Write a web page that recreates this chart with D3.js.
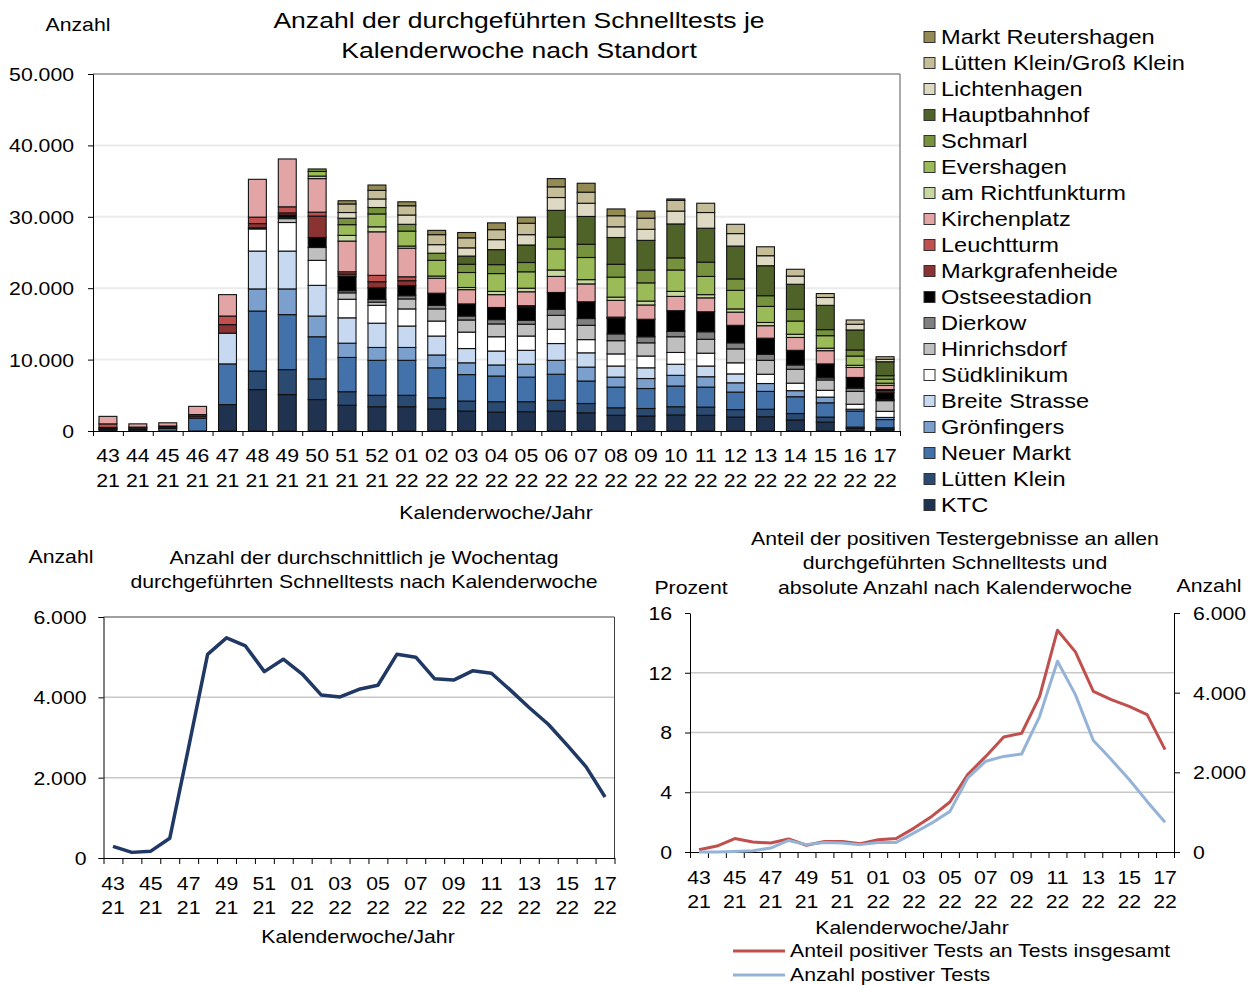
<!DOCTYPE html>
<html>
<head>
<meta charset="utf-8">
<script src="https://cdn.jsdelivr.net/npm/d3@7"></script>
<style>
body { margin: 0; background: #fff; }
svg { display: block; }
text { font-family: "Liberation Sans", Arial, sans-serif; fill: #000; }
</style>
</head>
<body>
<svg id="chart" width="1256" height="985"></svg>
<script>
// Kalenderwochen (zwei Zeilen: Woche / Jahr)
const weeks = ["43","44","45","46","47","48","49","50","51","52","01","02","03","04","05","06","07","08","09","10","11","12","13","14","15","16","17"];
const years = ["21","21","21","21","21","21","21","21","21","21","22","22","22","22","22","22","22","22","22","22","22","22","22","22","22","22","22"];

// Tests je Standort und Woche, von unten nach oben gestapelt
const ktc = [200,200,0,0,3700,5800,5100,4400,3600,3400,3400,3100,2800,2650,2700,2800,2550,2200,2100,2250,2200,1950,2000,1550,1250,350,250];
const luettenKlein = [0,0,0,0,0,2600,3500,2900,1900,1600,1600,1550,1400,1450,1400,1500,1300,1050,1050,1150,1150,1050,1050,900,700,200,200];
const neuerMarkt = [0,0,350,1800,5700,8400,7700,5900,4800,4900,4900,4200,3700,3600,3450,3650,3150,2900,2800,2900,2800,2450,2500,2350,2000,2250,1150];
const groenfingers = [0,0,0,0,0,3100,3600,2900,2000,1800,1800,1800,1650,1550,1800,1950,1950,1400,1400,1500,1450,1300,1100,850,800,250,300];
const breiteStrasse = [0,0,0,0,4300,5300,5300,4300,3550,3400,3000,2650,2000,1950,1950,2350,2000,1550,1500,1550,1500,1250,0,0,0,0,0];
const suedklinikum = [0,0,0,0,0,3100,4000,3500,2600,2500,2400,2100,2300,2000,2000,2000,1850,1700,1650,1650,1800,1550,1300,1050,950,700,850];
const hinrichsdorf = [0,0,0,0,0,0,550,1800,900,450,1400,1700,1700,1800,1650,1950,2000,1850,1850,2200,1950,1950,1950,1950,1450,1800,1500];
const dierkow = [0,0,0,0,0,0,200,0,300,400,450,500,550,600,550,850,950,950,850,750,1050,850,850,600,300,450,150];
const ostseestadion = [150,0,0,0,0,150,300,1400,2000,1600,1400,1700,1700,1700,1800,2350,2350,2150,2450,2900,2800,2450,2250,2050,1950,1500,950];
const markgrafenheide = [150,200,200,300,1200,600,300,3000,350,850,700,0,0,0,100,0,0,100,0,0,0,0,0,0,0,0,300];
const leuchtturm = [500,150,150,200,1200,900,850,550,300,900,550,0,0,0,150,0,0,100,0,0,0,0,0,0,0,0,150];
const kirchenplatz = [1050,450,450,1150,3000,5300,6700,4700,4300,6100,4000,2100,2000,1800,1950,2250,2500,2350,2000,2000,1950,1850,1750,1800,1850,1400,600];
const richtfunkturm = [0,0,0,0,0,0,0,350,800,700,300,300,300,450,500,900,600,450,550,700,450,450,450,450,350,300,300];
const evershagen = [0,0,0,0,0,0,0,650,1500,1800,2100,2200,2100,2500,2300,2950,3100,2800,2550,3000,2550,2600,2250,1850,1750,1300,550];
const schmarl = [0,0,0,0,0,0,0,350,900,900,950,1000,1150,1250,1300,1650,1850,1800,1800,1700,2000,1600,1500,1650,850,850,500];
const hauptbahnhof = [0,0,0,0,0,0,0,0,0,0,0,0,1150,2100,2450,3750,3900,3750,4150,4750,4750,4600,4200,3500,3400,2800,1950];
const lichtenhagen = [0,0,0,0,0,0,0,0,800,1200,1300,1200,1150,1400,1450,1800,1850,1500,1550,1800,2200,1750,1400,1150,1100,800,350];
const luettenGrossKlein = [0,0,0,0,0,0,0,0,1200,1200,1300,1400,1400,1400,1600,1500,1550,1550,1550,1500,1300,1300,1250,950,550,600,350];
const marktReutershagen = [0,0,0,0,0,0,0,0,450,750,550,600,750,950,850,1150,1250,950,1000,200,0,0,0,0,0,0,0];

const stationNames = ["KTC","Lütten Klein","Neuer Markt","Grönfingers","Breite Strasse","Südklinikum","Hinrichsdorf","Dierkow","Ostseestadion","Markgrafenheide","Leuchtturm","Kirchenplatz","am Richtfunkturm","Evershagen","Schmarl","Hauptbahnhof","Lichtenhagen","Lütten Klein/Groß Klein","Markt Reutershagen"];
const stationValues = [ktc, luettenKlein, neuerMarkt, groenfingers, breiteStrasse, suedklinikum, hinrichsdorf, dierkow, ostseestadion, markgrafenheide, leuchtturm, kirchenplatz, richtfunkturm, evershagen, schmarl, hauptbahnhof, lichtenhagen, luettenGrossKlein, marktReutershagen];
const stationColors = ["#1f3350","#2b4a72","#4372ab","#7ba0cd","#c6d9f1","#ffffff","#bfbfbf","#808080","#000000","#8b3232","#c0504d","#e2a4a4","#c6d89f","#9bbb59","#76923c","#4f6228","#ddd9c3","#c4bd97","#948a54"];

// durchschnittlich je Wochentag
const avgPerDay = [290,140,170,490,2760,5070,5480,5280,4640,4950,4580,4060,4010,4200,4300,5070,5000,4460,4430,4660,4600,4180,3740,3330,2810,2270,1520];
// Anteil positiver Tests (Prozent) und Anzahl positiver Tests
const positiveShare = [0.15,0.4,0.9,0.67,0.6,0.87,0.45,0.7,0.7,0.55,0.82,0.9,1.6,2.4,3.35,5.2,6.4,7.7,7.95,10.4,14.85,13.4,10.75,10.2,9.75,9.2,6.85];
const positiveCount = [0,0,15,30,100,290,185,240,225,185,240,240,480,730,1020,1860,2280,2400,2460,3400,4790,3950,2800,2320,1820,1270,745];

const SX = 1.18; // Schrift im Original etwas breiter
const de = d3.formatLocale({decimal: ",", thousands: ".", grouping: [3], currency: ["", " €"]});
const fmt = de.format(",d");

const svg = d3.select("#chart");
svg.append("rect").attr("width", 1256).attr("height", 985).attr("fill", "#fff");

function label(x, y, s, size, anchor) {
	return svg.append("text")
		.attr("transform", `translate(${x},${y}) scale(${SX},1)`)
		.attr("text-anchor", anchor || "middle")
		.attr("dominant-baseline", "central")
		.style("font-size", size + "px")
		.text(s);
}

// Y-Achsen-Beschriftung nachbearbeiten
function fixSide(g, off, anchor) {
	g.selectAll(".tick text")
		.attr("x", off / SX)
		.attr("dy", null)
		.attr("text-anchor", anchor)
		.attr("dominant-baseline", "central")
		.attr("transform", `scale(${SX},1)`)
		.style("font-size", "18px");
}

// zweizeilige Wochenbeschriftung
function twoLines(g, y1, y2) {
	g.selectAll(".tick text").each(function(i) {
		let t = d3.select(this);
		t.text(null).attr("y", null).attr("dy", null)
			.attr("dominant-baseline", "central")
			.attr("transform", `scale(${SX},1)`)
			.style("font-size", "18px");
		t.append("tspan").attr("x", 0).attr("y", y1).text(weeks[i]);
		t.append("tspan").attr("x", 0).attr("y", y2).text(years[i]);
	});
}

// ---------- Oben: gestapelte Säulen ----------
const x1 = d3.scaleBand().domain(d3.range(weeks.length)).range([93, 900]).paddingInner(0.4).paddingOuter(0.2);
const y1 = d3.scaleLinear().domain([0, 50000]).range([431, 74]);

svg.append("g").selectAll("line")
	.data([10000, 20000, 30000, 40000])
	.enter().append("line")
	.attr("x1", 93).attr("x2", 900)
	.attr("y1", d => y1(d)).attr("y2", d => y1(d))
	.attr("stroke", "#ebebeb").attr("stroke-width", 2);

svg.append("path").attr("d", `M93,${y1(50000)}H900V${y1(0)}`).attr("fill", "none").attr("stroke", "#595959");

let rows = weeks.map(function(w, i) {
	let r = {};
	stationNames.forEach(function(n, k) { r[n] = stationValues[k][i]; });
	return r;
});
let stacked = d3.stack().keys(stationNames)(rows);

svg.append("g").selectAll("g")
	.data(stacked)
	.enter().append("g")
	.attr("fill", (d, k) => stationColors[k])
	.selectAll("rect")
	.data(d => d.map((v, i) => ({i: i, y0: v[0], y1: v[1]})).filter(v => v.y1 - v.y0 > 0))
	.enter().append("rect")
	.attr("x", d => x1(d.i))
	.attr("width", x1.bandwidth())
	.attr("y", d => y1(d.y1))
	.attr("height", d => y1(d.y0) - y1(d.y1))
	.attr("stroke", "#111").attr("stroke-width", 1.1);

let yAx1 = svg.append("g").attr("transform", "translate(93,0)")
	.call(d3.axisLeft(y1).tickValues([0, 10000, 20000, 30000, 40000, 50000]).tickFormat(fmt).tickSize(5));
fixSide(yAx1, -19, "end");

svg.append("g").attr("transform", "translate(0,431)")
	.call(d3.axisBottom(d3.scaleLinear().domain([0, 27]).range([93, 900])).tickValues(d3.range(28)).tickFormat("").tickSize(5).tickSizeOuter(0));
let xLab1 = svg.append("g").attr("transform", "translate(0,431)")
	.call(d3.axisBottom(x1).tickSize(0));
xLab1.select(".domain").remove();
twoLines(xLab1, 25, 50);

label(78, 25, "Anzahl", 18);
label(519, 20, "Anzahl der durchgeführten Schnelltests je", 22.5);
label(519, 50, "Kalenderwoche nach Standort", 22.5);
label(496, 513, "Kalenderwoche/Jahr", 18);

// Legende
let legend = svg.append("g");
stationNames.slice().reverse().forEach(function(n, j) {
	let k = stationNames.length - 1 - j;
	let y = 37 + j * 26;
	legend.append("rect").attr("x", 924).attr("y", y - 5.5).attr("width", 11).attr("height", 11)
		.attr("fill", stationColors[k]).attr("stroke", "#333");
	label(941, y, n, 20, "start");
});

// ---------- Unten links: Durchschnitt je Wochentag ----------
const x2 = d3.scaleBand().domain(d3.range(weeks.length)).range([103.5, 614.5]);
const y2 = d3.scaleLinear().domain([0, 6000]).range([858, 617]);

svg.append("g").selectAll("line")
	.data([2000, 4000])
	.enter().append("line")
	.attr("x1", 103.5).attr("x2", 614.5)
	.attr("y1", d => y2(d)).attr("y2", d => y2(d))
	.attr("stroke", "#c8c8c8").attr("stroke-width", 1.5);
svg.append("path").attr("d", `M103.5,${y2(6000)}H614.5V${y2(0)}`).attr("fill", "none").attr("stroke", "#404040");

let yAx2 = svg.append("g").attr("transform", "translate(103.5,0)")
	.call(d3.axisLeft(y2).tickValues([0, 2000, 4000, 6000]).tickFormat(fmt).tickSize(5));
fixSide(yAx2, -17, "end");
svg.append("g").attr("transform", `translate(0,${y2(0)})`)
	.call(d3.axisBottom(d3.scaleLinear().domain([0, 27]).range([103.5, 614.5])).tickValues(d3.range(28)).tickFormat("").tickSize(6).tickSizeOuter(0));
let xLab2 = svg.append("g").attr("transform", `translate(0,${y2(0)})`)
	.call(d3.axisBottom(x2).tickSize(0).tickValues(d3.range(0, 27, 2)));
xLab2.select(".domain").remove();
twoLines(xLab2, 26, 50);

svg.append("path")
	.datum(avgPerDay)
	.attr("fill", "none").attr("stroke", "#1f3864").attr("stroke-width", 3.5).attr("stroke-linejoin", "round")
	.attr("d", d3.line().x((d, i) => x2(i) + x2.bandwidth() / 2).y(d => y2(d)));

label(61, 557, "Anzahl", 18);
label(364, 558, "Anzahl der durchschnittlich je Wochentag", 18);
label(364, 582, "durchgeführten Schnelltests nach Kalenderwoche", 18);
label(358, 937, "Kalenderwoche/Jahr", 18);

// ---------- Unten rechts: positive Tests ----------
const x3 = d3.scaleBand().domain(d3.range(weeks.length)).range([690, 1174]);
const y3 = d3.scaleLinear().domain([0, 16]).range([852, 613]);
const y3r = d3.scaleLinear().domain([0, 6000]).range([852, 613]);

svg.append("g").selectAll("line")
	.data([4, 8, 12])
	.enter().append("line")
	.attr("x1", 690).attr("x2", 1174)
	.attr("y1", d => y3(d)).attr("y2", d => y3(d))
	.attr("stroke", "#c8c8c8").attr("stroke-width", 1.5);

let yAx3 = svg.append("g").attr("transform", "translate(690,0)")
	.call(d3.axisLeft(y3).tickValues([0, 4, 8, 12, 16]).tickSize(5).tickSizeOuter(0));
fixSide(yAx3, -18, "end");
let yAx3r = svg.append("g").attr("transform", "translate(1174,0)")
	.call(d3.axisRight(y3r).tickValues([0, 2000, 4000, 6000]).tickFormat(fmt).tickSize(6).tickSizeOuter(0));
fixSide(yAx3r, 19, "start");
svg.append("g").attr("transform", `translate(0,${y3(0)})`)
	.call(d3.axisBottom(d3.scaleLinear().domain([0, 27]).range([690, 1174])).tickValues(d3.range(28)).tickFormat("").tickSize(6).tickSizeOuter(0));
let xLab3 = svg.append("g").attr("transform", `translate(0,${y3(0)})`)
	.call(d3.axisBottom(x3).tickSize(0).tickValues(d3.range(0, 27, 2)));
xLab3.select(".domain").remove();
twoLines(xLab3, 26, 50);

let cx3 = (d, i) => x3(i) + x3.bandwidth() / 2;
svg.append("path")
	.datum(positiveShare)
	.attr("fill", "none").attr("stroke", "#c0504d").attr("stroke-width", 3).attr("stroke-linejoin", "round")
	.attr("d", d3.line().x(cx3).y(d => y3(d)));
svg.append("path")
	.datum(positiveCount)
	.attr("fill", "none").attr("stroke", "#95b3d7").attr("stroke-width", 3).attr("stroke-linejoin", "round")
	.attr("d", d3.line().x(cx3).y(d => y3r(d)));

label(955, 539, "Anteil der positiven Testergebnisse an allen", 18);
label(955, 563, "durchgeführten Schnelltests und", 18);
label(955, 588, "absolute Anzahl nach Kalenderwoche", 18);
label(691, 588, "Prozent", 18);
label(1209, 586, "Anzahl", 18);
label(912, 928, "Kalenderwoche/Jahr", 18);

svg.append("line").attr("x1", 733).attr("x2", 785).attr("y1", 951).attr("y2", 951).attr("stroke", "#c0504d").attr("stroke-width", 3);
label(790, 951, "Anteil positiver Tests an Tests insgesamt", 18, "start");
svg.append("line").attr("x1", 733).attr("x2", 785).attr("y1", 975).attr("y2", 975).attr("stroke", "#95b3d7").attr("stroke-width", 3);
label(790, 975, "Anzahl postiver Tests", 18, "start");
</script>
</body>
</html>
